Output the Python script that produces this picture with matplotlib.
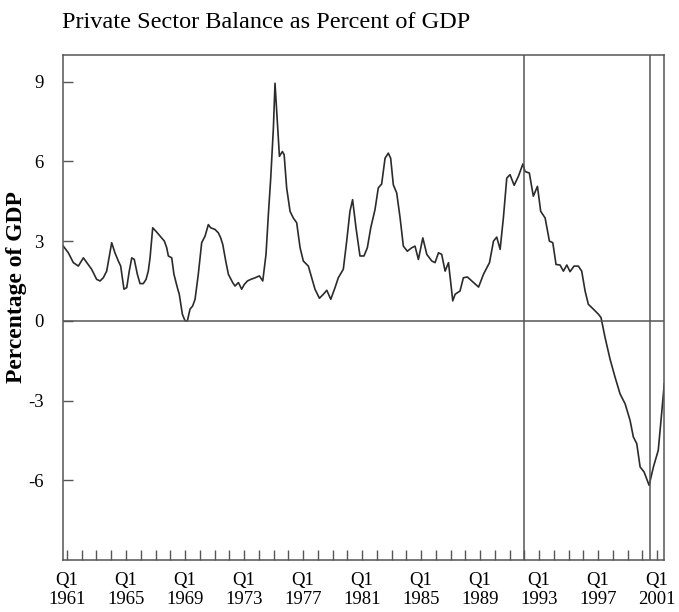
"""Private sector balance as percent of GDP, 1961-2001 (quarterly)."""

import matplotlib

matplotlib.use("Agg")
import matplotlib.pyplot as plt
from matplotlib.ticker import FixedLocator, NullFormatter

plt.rcParams["font.family"] = ["Liberation Serif", "DejaVu Serif"]

# Values (year as decimal, % of GDP).
years = [
    1960.75, 1961.09, 1961.43, 1961.77, 1962.11, 1962.44, 1962.67, 1963.01,
    1963.24, 1963.46, 1963.69, 1964.03, 1964.25, 1964.48, 1964.64, 1964.86,
    1965.05, 1965.22, 1965.39, 1965.56, 1965.77, 1965.95, 1966.17, 1966.36,
    1966.51, 1966.63, 1966.81, 1967.03, 1967.31, 1967.60, 1967.76, 1967.87,
    1968.10, 1968.25, 1968.48, 1968.61, 1968.82, 1969.00, 1969.16, 1969.34,
    1969.52, 1969.68, 1969.90, 1970.13, 1970.36, 1970.58, 1970.74, 1971.03,
    1971.26, 1971.42, 1971.56, 1971.76, 1971.94, 1972.23, 1972.39, 1972.62,
    1972.84, 1973.02, 1973.23, 1973.46, 1973.75, 1974.04, 1974.27, 1974.49,
    1974.65, 1974.81, 1974.99, 1975.10, 1975.26, 1975.40, 1975.60, 1975.72,
    1975.89, 1976.12, 1976.34, 1976.57, 1976.80, 1977.02, 1977.36, 1977.59,
    1977.81, 1978.11, 1978.38, 1978.61, 1978.88, 1979.17, 1979.39, 1979.73,
    1979.96, 1980.18, 1980.36, 1980.59, 1980.86, 1981.13, 1981.36, 1981.59,
    1981.88, 1982.10, 1982.33, 1982.56, 1982.78, 1982.94, 1983.12, 1983.35,
    1983.58, 1983.80, 1984.07, 1984.37, 1984.59, 1984.82, 1985.12, 1985.39,
    1985.73, 1985.95, 1986.18, 1986.40, 1986.63, 1986.86, 1987.15, 1987.31,
    1987.64, 1987.87, 1988.14, 1988.44, 1988.90, 1989.23, 1989.64, 1989.91,
    1990.13, 1990.36, 1990.58, 1990.81, 1991.03, 1991.31, 1991.60, 1991.90,
    1992.05, 1992.34, 1992.61, 1992.89, 1993.11, 1993.41, 1993.70, 1993.93,
    1994.15, 1994.42, 1994.65, 1994.88, 1995.10, 1995.37, 1995.66, 1995.89,
    1996.12, 1996.34, 1996.68, 1997.02, 1997.20, 1997.47, 1997.81, 1998.15,
    1998.49, 1998.83, 1999.17, 1999.39, 1999.62, 1999.85, 2000.12, 2000.46,
    2000.75, 2001.08, 2001.49,
]
balance = [
    2.81, 2.56, 2.19, 2.06, 2.37, 2.12, 1.94, 1.56,
    1.50, 1.62, 1.87, 2.94, 2.56, 2.25, 2.06, 1.19,
    1.25, 1.87, 2.37, 2.31, 1.75, 1.40, 1.40, 1.56,
    1.87, 2.37, 3.50, 3.37, 3.19, 3.00, 2.75, 2.44,
    2.37, 1.75, 1.25, 1.00, 0.25, 0.00, 0.00, 0.44,
    0.56, 0.81, 1.75, 2.94, 3.19, 3.62, 3.50, 3.44,
    3.31, 3.12, 2.87, 2.25, 1.75, 1.44, 1.31, 1.44,
    1.19, 1.37, 1.50, 1.56, 1.62, 1.69, 1.50, 2.50,
    4.00, 5.37, 7.25, 8.94, 7.50, 6.19, 6.37, 6.25,
    5.00, 4.12, 3.87, 3.69, 2.75, 2.25, 2.06, 1.62,
    1.19, 0.85, 1.00, 1.15, 0.81, 1.25, 1.62, 1.94,
    3.00, 4.12, 4.56, 3.50, 2.44, 2.44, 2.75, 3.50,
    4.19, 5.00, 5.15, 6.12, 6.31, 6.12, 5.12, 4.81,
    3.87, 2.81, 2.62, 2.75, 2.81, 2.31, 3.12, 2.50,
    2.25, 2.19, 2.56, 2.50, 1.87, 2.19, 0.75, 1.00,
    1.12, 1.62, 1.65, 1.50, 1.27, 1.75, 2.19, 3.00,
    3.15, 2.69, 3.87, 5.37, 5.50, 5.10, 5.44, 5.90,
    5.62, 5.56, 4.69, 5.06, 4.12, 3.87, 3.00, 2.94,
    2.12, 2.10, 1.87, 2.10, 1.85, 2.06, 2.06, 1.87,
    1.12, 0.62, 0.44, 0.25, 0.12, -0.62, -1.44, -2.12,
    -2.75, -3.12, -3.75, -4.37, -4.62, -5.50, -5.69, -6.19,
    -5.50, -4.87, -2.37,
]

marker_years = [1992.0, 2000.53]  # vertical reference lines
label_years = list(range(1961, 2002, 4))
tick_years = list(range(1961, 2002))
y_ticks = [-6, -3, 0, 3, 6, 9]

INK = "#2b2b2b"
GRID = "#555555"

fig = plt.figure(figsize=(6.79, 6.12), dpi=100)
ax = fig.add_axes([0.0928, 0.085, 0.8858, 0.825])

ax.plot(years, balance, color=INK, lw=1.2)
ax.axhline(0, color=GRID, lw=1.1)
for yr in marker_years:
    ax.axvline(yr, color=GRID, lw=1.1)

ax.set_xlim(1960.73, 2001.5)
ax.set_ylim(-9, 10)

ax.set_yticks(y_ticks)
ax.set_yticklabels([str(v) for v in y_ticks], fontsize=13.5)
ax.tick_params(axis="y", direction="in", length=7, width=1, color=GRID, pad=14)

ax.set_xticks(label_years)
ax.set_xticklabels([f"Q1\n{y}" for y in label_years], fontsize=13.5,
                   linespacing=1.15)
ax.xaxis.set_minor_locator(FixedLocator(tick_years))
ax.xaxis.set_minor_formatter(NullFormatter())
ax.tick_params(axis="x", which="both", direction="in", length=7, width=1,
               color=GRID, pad=9)

for sp in ax.spines.values():
    sp.set_color(GRID)
    sp.set_linewidth(1.1)

ax.set_ylabel("Percentage of GDP", fontsize=17, fontweight="bold")
ax.yaxis.set_label_coords(-0.06, 0.54)

fig.text(0.092, 0.963, "Private Sector Balance as Percent of GDP",
         fontsize=17.5, va="center", ha="left")

fig.savefig("out.png", dpi=100)
